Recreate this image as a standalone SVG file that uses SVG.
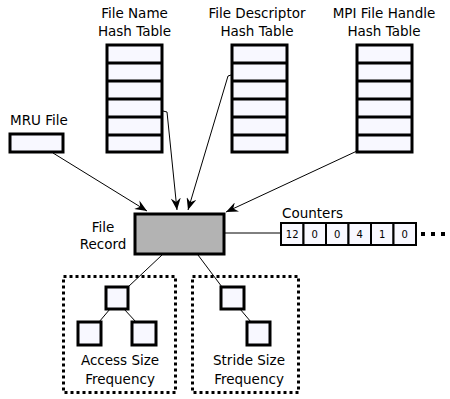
<svg xmlns="http://www.w3.org/2000/svg" width="450" height="399" viewBox="0 0 450 399">
<defs>
<style>
text{font-family:"DejaVu Sans",sans-serif;font-size:13.5px;fill:#000}
.c{text-anchor:middle}
.cell{fill:#f8f8ff;stroke:#000;stroke-width:3}
.tbl line{stroke:#000;stroke-width:3}
.cnt rect{fill:#f8f8ff;stroke:#000;stroke-width:2}
.cnt text{font-size:10px;text-anchor:middle}
.edge{stroke:#000;stroke-width:1;fill:none}
.dot{fill:none;stroke:#000;stroke-width:3;stroke-dasharray:3 3}
</style>
<marker id="ah" viewBox="0 0 12 10" refX="12" refY="5" markerWidth="12" markerHeight="10" markerUnits="userSpaceOnUse" orient="auto">
<path d="M0,0 L12,5 L0,10 L4,5 Z" fill="#000"/>
</marker>
</defs>

<g id="fileNameTable" class="tbl">
<text class="c" x="134.5" y="18">File Name</text>
<text class="c" x="134.5" y="36">Hash Table</text>
<rect class="cell" x="107" y="45" width="55" height="107"/>
<line x1="107" y1="63" x2="162" y2="63"/><line x1="107" y1="81" x2="162" y2="81"/><line x1="107" y1="99" x2="162" y2="99"/><line x1="107" y1="117" x2="162" y2="117"/><line x1="107" y1="135" x2="162" y2="135"/>
</g>

<g id="fileDescTable" class="tbl">
<text class="c" x="257" y="18">File Descriptor</text>
<text class="c" x="257" y="36">Hash Table</text>
<rect class="cell" x="232" y="45" width="55" height="107"/>
<line x1="232" y1="63" x2="287" y2="63"/><line x1="232" y1="81" x2="287" y2="81"/><line x1="232" y1="99" x2="287" y2="99"/><line x1="232" y1="117" x2="287" y2="117"/><line x1="232" y1="135" x2="287" y2="135"/>
</g>

<g id="mpiTable" class="tbl">
<text class="c" x="384" y="18">MPI File Handle</text>
<text class="c" x="384" y="36">Hash Table</text>
<rect class="cell" x="357" y="45" width="55" height="107"/>
<line x1="357" y1="63" x2="412" y2="63"/><line x1="357" y1="81" x2="412" y2="81"/><line x1="357" y1="99" x2="412" y2="99"/><line x1="357" y1="117" x2="412" y2="117"/><line x1="357" y1="135" x2="412" y2="135"/>
</g>

<g id="mruFile">
<text x="10" y="125">MRU File</text>
<rect class="cell" x="10" y="134" width="53" height="18"/>
</g>

<g id="fileRecord">
<text class="c" x="103" y="232">File</text>
<text class="c" x="103" y="249">Record</text>
<rect x="135" y="214" width="89" height="40" fill="#b3b3b3" stroke="#000" stroke-width="3"/>
</g>

<g id="counters" class="cnt">
<text x="282" y="218" style="font-size:13.5px;text-anchor:start">Counters</text>
<rect x="281" y="223" width="22.5" height="22"/><rect x="303.5" y="223" width="22.5" height="22"/><rect x="326" y="223" width="22.5" height="22"/><rect x="348.5" y="223" width="22.5" height="22"/><rect x="371" y="223" width="22.5" height="22"/><rect x="393.5" y="223" width="22.5" height="22"/>
<text x="292.2" y="238">12</text><text x="314.7" y="238">0</text><text x="337.2" y="238">0</text><text x="359.7" y="238">4</text><text x="382.2" y="238">1</text><text x="404.7" y="238">0</text>
<rect x="421" y="232" width="4" height="4" style="fill:#000;stroke:none"/><rect x="431" y="232" width="4" height="4" style="fill:#000;stroke:none"/><rect x="441" y="232" width="4" height="4" style="fill:#000;stroke:none"/>
</g>

<g id="accessSize">
<rect class="dot" x="63.5" y="276.5" width="112" height="116"/>
<rect class="cell" x="106" y="287" width="22" height="22"/>
<rect class="cell" x="78" y="322" width="23" height="23"/>
<rect class="cell" x="132" y="322" width="24" height="23"/>
<text class="c" x="120" y="365">Access Size</text>
<text class="c" x="120" y="384">Frequency</text>
</g>

<g id="strideSize">
<rect class="dot" x="192.5" y="276.5" width="106" height="116"/>
<rect class="cell" x="221" y="287" width="23" height="22"/>
<rect class="cell" x="247" y="322" width="23" height="23"/>
<text class="c" x="249" y="365">Stride Size</text>
<text class="c" x="249" y="384">Frequency</text>
</g>

<g id="connectors">
<path class="edge" d="M53,153 L147,211" marker-end="url(#ah)"/>
<path class="edge" d="M163,111 L167,112 L177,210" marker-end="url(#ah)"/>
<path class="edge" d="M231,75 L228,76 L188,210" marker-end="url(#ah)"/>
<path class="edge" d="M357,151 L226,212" marker-end="url(#ah)"/>
<path class="edge" d="M224,233 L281,233"/>
<path class="edge" d="M162,255 L128,287"/>
<path class="edge" d="M198,255 L222,287"/>
<path class="edge" d="M110,309 L99,322"/>
<path class="edge" d="M124,309 L136,322"/>
<path class="edge" d="M240,309 L251,322"/>
</g>
</svg>
